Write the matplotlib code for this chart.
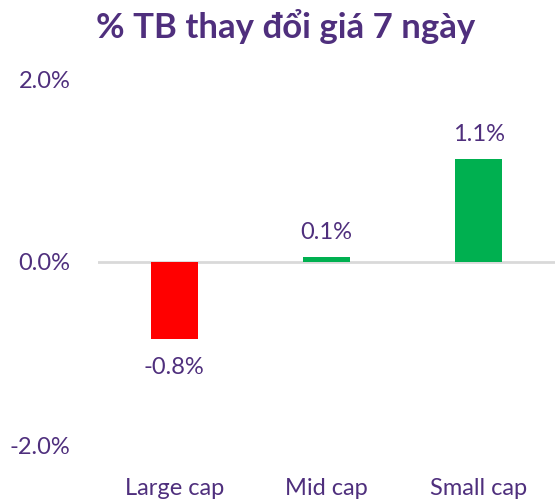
import matplotlib
matplotlib.use("Agg")
import matplotlib.pyplot as plt

# data
categories = ["Large cap", "Mid cap", "Small cap"]
values = [-0.84, 0.06, 1.13]
labels = ["-0.8%", "0.1%", "1.1%"]
yticks = [-2.0, 0.0, 2.0]

purple = "#4F2F7D"
colors = ["#FF0000" if v < 0 else "#00B050" for v in values]

plt.rcParams["font.family"] = ["Lato", "DejaVu Sans"]

fig = plt.figure(figsize=(5.55, 5.0), dpi=100)
ax = fig.add_axes([0.177, 0.11, 0.823, 0.732])

x = range(len(categories))
bars = ax.bar(x, values, width=0.31, color=colors, zorder=2)
ax.axhline(0, color="#D9D9D9", lw=2, zorder=1)

for b, v, t in zip(bars, values, labels):
    cx = b.get_x() + b.get_width() / 2
    if v < 0:
        ax.annotate(t, (cx, v), xytext=(0, -13), textcoords="offset points",
                    ha="center", va="top", fontsize=17, color=purple)
    else:
        ax.annotate(t, (cx, v), xytext=(0, 10), textcoords="offset points",
                    ha="center", va="bottom", fontsize=17, color=purple)

ax.set_xlim(-0.5, 2.5)
ax.set_ylim(-2, 2)
ax.set_yticks(yticks)
ax.set_yticklabels(["%.1f%%" % t for t in yticks])
ax.set_xticks(list(x))
ax.set_xticklabels(categories)
ax.tick_params(axis="y", length=0, pad=20, labelsize=17, labelcolor=purple)
ax.tick_params(axis="x", length=0, pad=24, labelsize=17, labelcolor=purple)
for s in ax.spines.values():
    s.set_visible(False)

fig.text(0.515, 0.947, "% TB thay đổi giá 7 ngày", ha="center", va="center",
         fontsize=25, fontweight="bold", color=purple)

fig.savefig("out.png", dpi=100)
